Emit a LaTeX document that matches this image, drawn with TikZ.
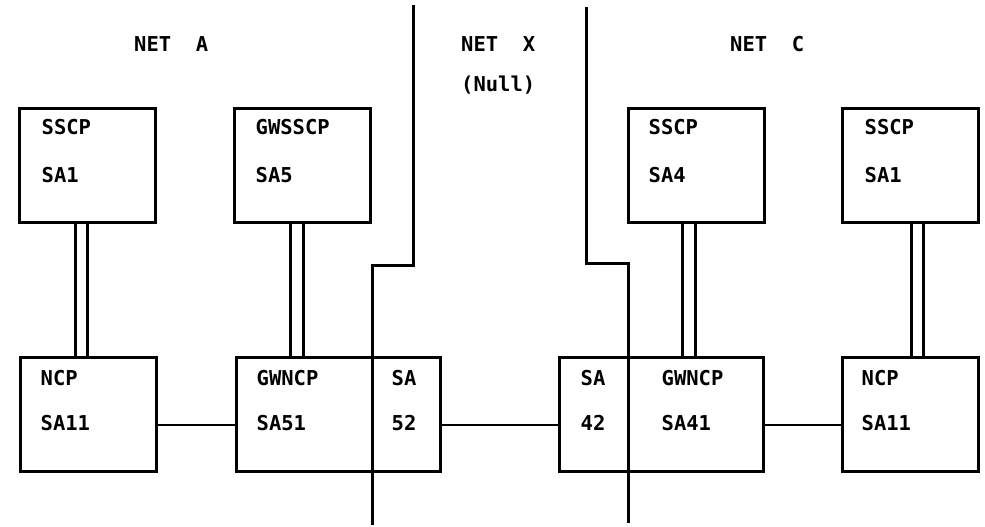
\documentclass[tikz,border=0pt]{standalone}
\usepackage{fontspec}
\setmonofont{DejaVu Sans Mono}
\usepackage{tikz}
\usetikzlibrary{positioning,calc,backgrounds}
\tikzset{unit/.style={draw, line width=3pt, minimum width=136pt, minimum height=114pt, inner sep=0pt}, gwunit/.style={unit, minimum width=204pt}, txt/.style={anchor=base west, inner sep=0pt}, link/.style={double, double distance=9.5pt, line width=3.2pt}, wire/.style={line width=2.2pt}, border/.style={line width=3pt}}

\begin{document}
\begin{tikzpicture}[x=1pt,y=-1pt,font=\ttfamily\bfseries\fontsize{20.5}{24}\selectfont]
\useasboundingbox (0,0) rectangle (985,527);
% network titles
\node[txt] (neta) at (134,52) {NET\ \ A};
\node[txt] (netx) at (461,52) {NET\ \ X};
\node[txt] (null) at (461,92) {(Null)};
\node[txt] (netc) at (730,52) {NET\ \ C};
% control points
\node[unit] (ssa) at (87,165) {}; \node[unit] (gws) at (302,165) {}; \node[unit] (ssb) at (696,165) {}; \node[unit] (ssc) at (910,165) {};
\node[txt] (ssa1) at ([shift={(24,28)}]ssa.north west) {SSCP}; \node[txt] (ssa2) at ([shift={(24,76)}]ssa.north west) {SA1};
\node[txt] (gws1) at ([shift={(23,28)}]gws.north west) {GWSSCP}; \node[txt] (gws2) at ([shift={(23,76)}]gws.north west) {SA5};
\node[txt] (ssb1) at ([shift={(22,28)}]ssb.north west) {SSCP}; \node[txt] (ssb2) at ([shift={(22,76)}]ssb.north west) {SA4};
\node[txt] (ssc1) at ([shift={(24,28)}]ssc.north west) {SSCP}; \node[txt] (ssc2) at ([shift={(24,76)}]ssc.north west) {SA1};
% network control programs
\node[unit] (ncpa) at (88,414) {}; \node[gwunit] (gwa) at (338,414) {}; \node[gwunit] (gwc) at (661,414) {}; \node[unit] (ncpc) at (910,414) {};
\node[txt] (ncpa1) at ([shift={(22,30)}]ncpa.north west) {NCP}; \node[txt] (ncpa2) at ([shift={(22,75)}]ncpa.north west) {SA11};
\node[txt] (gwa1) at ([shift={(22,30)}]gwa.north west) {GWNCP}; \node[txt] (gwa2) at ([shift={(22,75)}]gwa.north west) {SA51};
\node[txt] (gwa3) at ([shift={(157,30)}]gwa.north west) {SA}; \node[txt] (gwa4) at ([shift={(157,75)}]gwa.north west) {52};
\node[txt] (gwc1) at ([shift={(23,30)}]gwc.north west) {SA}; \node[txt] (gwc2) at ([shift={(23,75)}]gwc.north west) {42};
\node[txt] (gwc3) at ([shift={(104,30)}]gwc.north west) {GWNCP}; \node[txt] (gwc4) at ([shift={(104,75)}]gwc.north west) {SA41};
\node[txt] (ncpc1) at ([shift={(21,30)}]ncpc.north west) {NCP}; \node[txt] (ncpc2) at ([shift={(21,75)}]ncpc.north west) {SA11};
% links
\begin{scope}[on background layer]
\draw[link] ([xshift=-5.5pt]ssa.south) -- ([xshift=-5.5pt]ssa.south |- ncpa.north);
\draw[link] ([xshift=-5pt]gws.south) -- ([xshift=-5pt]gws.south |- gwa.north);
\draw[link] ([xshift=-7pt]ssb.south) -- ([xshift=-7pt]ssb.south |- gwc.north);
\draw[link] ([xshift=7.5pt]ssc.south) -- ([xshift=7.5pt]ssc.south |- ncpc.north);
\end{scope}
\draw[wire] ([yshift=-11pt]ncpa.east) -- ([yshift=-11pt]gwa.west); \draw[wire] ([yshift=-11pt]gwa.east) -- ([yshift=-11pt]gwc.west); \draw[wire] ([yshift=-11pt]gwc.east) -- ([yshift=-11pt]ncpc.west);
% network boundaries
\coordinate (lt) at (413,5); \coordinate (lm) at (372,265); \coordinate (lb) at (372,525);
\coordinate (rt) at (586,7); \coordinate (rm) at (628,263); \coordinate (rb) at (628,523);
\draw[border] (lt) |- (lm) -- (lb); \draw[border] (rt) |- (rm) -- (rb);
\end{tikzpicture}
\end{document}
